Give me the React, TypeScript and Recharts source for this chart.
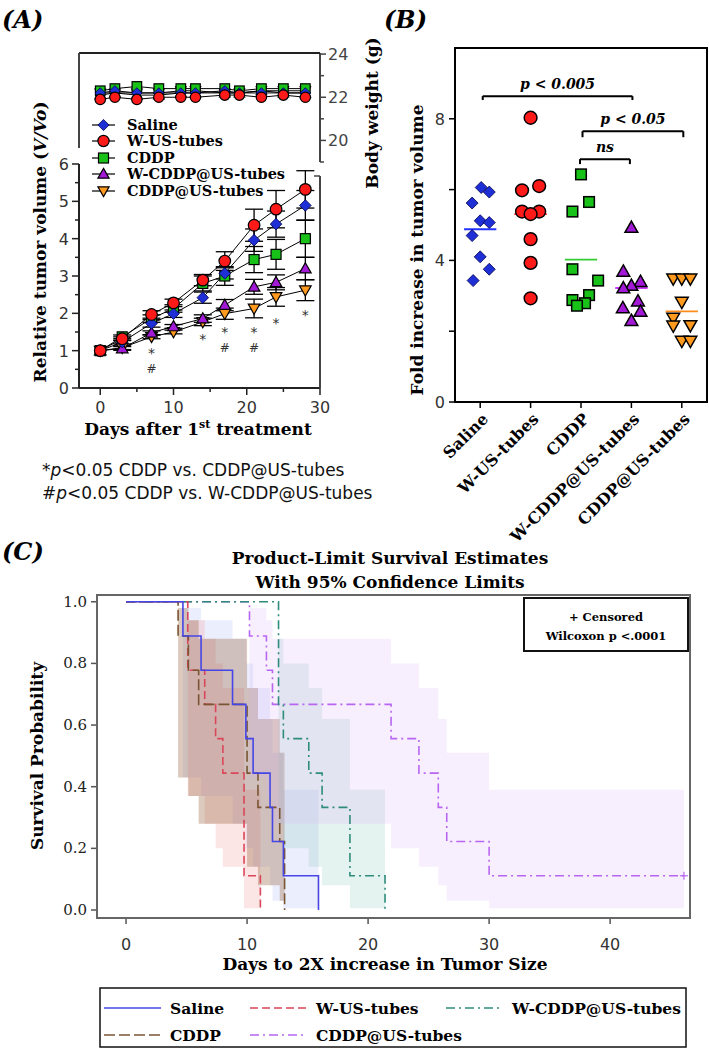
import React from 'react';
import { ComposedChart, Line, Area, Scatter, XAxis, YAxis, ErrorBar, ReferenceLine } from 'recharts';

const SERIF = '"DejaVu Serif", serif';
const SANS = '"DejaVu Sans", sans-serif';

// ---------- (A) relative tumour volume ----------
const DAYS = [0, 3, 7, 10, 14, 17, 21, 24, 28];
const VOL_SALINE = [1, 1.23, 1.73, 1.99, 2.42, 3.07, 3.96, 4.39, 4.89];
const VOL_WUS = [1, 1.32, 1.97, 2.28, 2.89, 3.4, 4.36, 4.79, 5.32];
const VOL_CDDP = [1, 1.37, 1.86, 2.13, 2.8, 3.0, 3.44, 3.58, 4.0];
const VOL_WCDDP = [1, 1.06, 1.48, 1.65, 1.86, 2.22, 2.71, 2.83, 3.2];
const VOL_CDDPUS = [1, 1.08, 1.37, 1.5, 1.77, 1.99, 2.13, 2.44, 2.62];
const ERR_SALINE = [0, 0.05, 0.1, 0.1, 0.15, 0.15, 0.3, 0.35, 0.4];
const ERR_WUS = [0, 0.05, 0.1, 0.1, 0.15, 0.25, 0.43, 0.5, 0.5];
const ERR_CDDP = [0, 0.05, 0.1, 0.1, 0.2, 0.25, 0.35, 0.4, 0.5];
const ERR_WCDDP = [0, 0.05, 0.05, 0.05, 0.1, 0.15, 0.2, 0.2, 0.3];
const ERR_CDDPUS = [0, 0.05, 0.05, 0.05, 0.1, 0.15, 0.25, 0.25, 0.28];

// significance marks under the curves (* = vs CDDP@US-tubes, # = vs W-CDDP@US-tubes)
const MARK_DAYS = [7, 14, 17, 21, 24, 28];
const MARK_Y = [0.98, 1.37, 1.55, 1.55, 1.8, 2.0];
const MARK_TXT = ['*#', '*', '*#', '*#', '*', '*'];

// ---------- (A) body weight ----------
const BW_DAYS = [0, 2, 5, 8, 11, 13, 17, 19, 22, 25, 28];
const BW_SALINE = [22.2, 22.3, 22.2, 22.2, 22.2, 22.2, 22.3, 22.2, 22.2, 22.2, 22.2];
const BW_WUS = [21.9, 22.0, 21.9, 22.0, 22.0, 22.0, 22.1, 22.1, 22.0, 22.1, 22.0];
const BW_CDDP = [22.3, 22.4, 22.5, 22.4, 22.4, 22.4, 22.4, 22.3, 22.4, 22.4, 22.4];
const BW_WCDDP = [22.1, 22.2, 22.1, 22.1, 22.2, 22.2, 22.2, 22.2, 22.3, 22.2, 22.2];
const BW_CDDPUS = [22.2, 22.2, 22.2, 22.2, 22.3, 22.3, 22.2, 22.2, 22.3, 22.3, 22.3];

// ---------- (B) fold increase ----------
const CATS = ['Saline', 'W-US-tubes', 'CDDP', 'W-CDDP@US-tubes', 'CDDP@US-tubes'];
const FOLD_SALINE = [6.06, 5.93, 5.62, 5.12, 5.07, 4.7, 4.1, 3.75, 3.43];
const FOLD_WUS = [8.03, 6.1, 5.98, 5.38, 5.38, 5.31, 4.6, 3.93, 2.93];
const FOLD_CDDP = [6.43, 5.65, 5.38, 3.75, 3.43, 3.02, 2.88, 2.79, 2.72];
const FOLD_WCDDP = [4.93, 3.69, 3.4, 3.29, 3.22, 2.85, 2.66, 2.56, 2.3];
const FOLD_CDDPUS = [3.48, 3.48, 3.48, 2.82, 2.37, 2.15, 2.16, 1.72, 1.72];
const JIT_SALINE = [0.02, 0.18, -0.16, 0, 0.18, -0.16, 0, 0.18, -0.14];
const JIT_WUS = [0, 0.17, -0.17, -0.17, 0.17, 0, 0, 0, 0];
const JIT_CDDP = [0, 0.16, -0.17, -0.17, 0.34, 0.16, -0.17, 0.08, -0.08];
const JIT_WCDDP = [0, -0.16, 0.18, 0, -0.16, 0.13, -0.17, 0.18, 0];
const JIT_CDDPUS = [-0.17, 0, 0.17, 0, -0.17, -0.17, 0.17, 0, 0.17];
const FOLD_MEANS = [4.88, 5.31, 4.02, 3.22, 2.56];
const BRACKETS = [
  { from: 0.05, to: 3.02, y: 8.64, leg: 8.53, label: 'p < 0.005' },
  { from: 2.03, to: 4.03, y: 7.65, leg: 7.48, label: 'p < 0.05' },
  { from: 1.98, to: 2.97, y: 6.86, leg: 6.72, label: 'ns' },
];

// ---------- (C) Kaplan-Meier ----------
const KM_SALINE_T = [0, 4.7, 6.2, 8.8, 9.9, 10.5, 11.9, 12.1, 13.0, 15.9];
const KM_SALINE_S = [1, 0.889, 0.778, 0.667, 0.556, 0.444, 0.333, 0.222, 0.111, 0];
const KM_SALINE_LO = [1, 0.43, 0.37, 0.28, 0.2, 0.14, 0.08, 0.03, 0.006, 0];
const KM_SALINE_HI = [1, 0.98, 0.94, 0.88, 0.8, 0.72, 0.62, 0.51, 0.39, 0];
const KM_WUS_T = [0, 5.1, 6.5, 7.4, 8.0, 9.75, 11.1];
const KM_WUS_S = [1, 0.778, 0.667, 0.556, 0.444, 0.111, 0];
const KM_WUS_LO = [1, 0.37, 0.28, 0.2, 0.14, 0.006, 0];
const KM_WUS_HI = [1, 0.94, 0.88, 0.8, 0.72, 0.39, 0];
const KM_CDDP_T = [0, 4.3, 5.15, 6.0, 10.0, 10.9, 12.7, 13.1];
const KM_CDDP_S = [1, 0.889, 0.778, 0.667, 0.444, 0.333, 0.222, 0];
const KM_CDDP_LO = [1, 0.43, 0.37, 0.28, 0.14, 0.08, 0.03, 0];
const KM_CDDP_HI = [1, 0.98, 0.94, 0.88, 0.72, 0.62, 0.51, 0];
const KM_WCDDP_T = [0, 12.6, 13.0, 15.1, 16.2, 18.5, 21.4];
const KM_WCDDP_S = [1, 0.667, 0.556, 0.444, 0.333, 0.111, 0];
const KM_WCDDP_LO = [1, 0.28, 0.2, 0.14, 0.08, 0.006, 0];
const KM_WCDDP_HI = [1, 0.88, 0.8, 0.72, 0.62, 0.39, 0];
const KM_CDDPUS_T = [0, 10.2, 11.6, 12.1, 21.9, 24.2, 25.8, 26.5, 30.0, 46.1];
const KM_CDDPUS_S = [1, 0.889, 0.778, 0.667, 0.556, 0.444, 0.333, 0.222, 0.111, 0.111];
const KM_CDDPUS_LO = [1, 0.43, 0.37, 0.28, 0.2, 0.14, 0.08, 0.03, 0.006, 0.006];
const KM_CDDPUS_HI = [1, 0.98, 0.94, 0.88, 0.8, 0.72, 0.62, 0.51, 0.39, 0.39];
const CENSOR_T = [46.1];
const CENSOR_S = [0.111];

// styles
const MK = [
  { kind: 'diamond', fill: '#1f2fd6' },
  { kind: 'circle', fill: '#ff1a1a' },
  { kind: 'square', fill: '#19c219' },
  { kind: 'up', fill: '#a31ad6' },
  { kind: 'down', fill: '#ff9a1f' },
];
const MEAN_COLORS = ['#2233ff', '#ff2020', '#33cc33', '#cc33ff', '#ff8c1a'];
const KM_STYLE = [
  { color: '#4646e6', dash: undefined, band: '#6e86f2', op: 0.14 },
  { color: '#d9475a', dash: '8 4', band: '#f5a0a0', op: 0.28 },
  { color: '#7a5533', dash: '11 4', band: '#9c6846', op: 0.35 },
  { color: '#2f8c7c', dash: '9 4 2 4', band: '#7cc4b4', op: 0.2 },
  { color: '#b866f2', dash: '9 4 2 4', band: '#d5b0f7', op: 0.2 },
];

function marker(kind: string, cx: number, cy: number, r: number, fill: string, sw = 1.2) {
  if (cx == null || cy == null || isNaN(cx) || isNaN(cy)) return null;
  const st = { fill, stroke: '#000', strokeWidth: sw };
  if (kind === 'diamond')
    return <polygon points={`${cx},${cy - r} ${cx + r},${cy} ${cx},${cy + r} ${cx - r},${cy}`} fill={fill} stroke="#00004a" strokeWidth={0.8} />;
  if (kind === 'circle') return <circle cx={cx} cy={cy} r={r} {...st} />;
  if (kind === 'square') return <rect x={cx - r} y={cy - r} width={2 * r} height={2 * r} {...st} />;
  if (kind === 'up') return <polygon points={`${cx},${cy - r} ${cx + r},${cy + r * 0.75} ${cx - r},${cy + r * 0.75}`} {...st} />;
  return <polygon points={`${cx},${cy + r} ${cx + r},${cy - r * 0.75} ${cx - r},${cy - r * 0.75}`} {...st} />;
}

const dotFor = (kind: string, fill: string, r: number, sw = 1.2) => (p: any) => (
  <g key={`dot-${p.index}`}>{marker(kind, p.cx, p.cy, r, fill, sw)}</g>
);

const tumorRows = DAYS.map((d, i) => ({
  day: d,
  v0: VOL_SALINE[i], e0: ERR_SALINE[i],
  v1: VOL_WUS[i], e1: ERR_WUS[i],
  v2: VOL_CDDP[i], e2: ERR_CDDP[i],
  v3: VOL_WCDDP[i], e3: ERR_WCDDP[i],
  v4: VOL_CDDPUS[i], e4: ERR_CDDPUS[i],
}));
const markRows = MARK_DAYS.map((d, i) => ({ day: d, y: MARK_Y[i], t: MARK_TXT[i] }));
const bwRows = BW_DAYS.map((d, i) => ({
  day: d, w0: BW_SALINE[i], w1: BW_WUS[i], w2: BW_CDDP[i], w3: BW_WCDDP[i], w4: BW_CDDPUS[i],
}));
const FOLDS = [FOLD_SALINE, FOLD_WUS, FOLD_CDDP, FOLD_WCDDP, FOLD_CDDPUS];
const JITS = [JIT_SALINE, JIT_WUS, JIT_CDDP, JIT_WCDDP, JIT_CDDPUS];
const foldSets = FOLDS.map((vals, g) => vals.map((v, i) => ({ x: g + JITS[g][i], y: v })));
const km = (t: number[], s: number[], lo: number[], hi: number[]) =>
  t.map((tt, i) => ({ t: tt, s: s[i], band: [lo[i], hi[i]] }));
const KM_SETS = [
  km(KM_SALINE_T, KM_SALINE_S, KM_SALINE_LO, KM_SALINE_HI),
  km(KM_WUS_T, KM_WUS_S, KM_WUS_LO, KM_WUS_HI),
  km(KM_CDDP_T, KM_CDDP_S, KM_CDDP_LO, KM_CDDP_HI),
  km(KM_WCDDP_T, KM_WCDDP_S, KM_WCDDP_LO, KM_WCDDP_HI),
  km(KM_CDDPUS_T, KM_CDDPUS_S, KM_CDDPUS_LO, KM_CDDPUS_HI),
];
const censorRows = CENSOR_T.map((t, i) => ({ t, s: CENSOR_S[i] }));

// ---------- ticks ----------
const VolYTick = ({ x, y, payload }: any) => {
  const v = payload.value;
  const major = v % 1 === 0;
  return (
    <g>
      <line x1={x} x2={x - (major ? 7 : 4)} y1={y} y2={y} stroke="#222" strokeWidth={1.5} />
      {major && <text x={x - 10} y={y + 6} textAnchor="end" fontFamily={SANS} fontSize={16} fill="#333">{v}</text>}
    </g>
  );
};
const DayXTick = ({ x, y, payload }: any) => {
  const v = payload.value;
  const major = v % 10 === 0;
  return (
    <g>
      <line x1={x} x2={x} y1={y} y2={y + (major ? 7 : 4)} stroke="#222" strokeWidth={1.5} />
      {major && <text x={x} y={y + 25} textAnchor="middle" fontFamily={SANS} fontSize={16} fill="#333">{v}</text>}
    </g>
  );
};
const BwTick = ({ x, y, payload }: any) => {
  const v = payload.value;
  const major = v % 2 === 0;
  return (
    <g>
      <line x1={x} x2={x + (major ? 6 : 4)} y1={y} y2={y} stroke="#444" strokeWidth={1.5} />
      {major && <text x={x + 8} y={y + 6} textAnchor="start" fontFamily={SANS} fontSize={16} fill="#444">{v}</text>}
    </g>
  );
};
const ZeroRightTick = ({ x, y, payload }: any) => (
  <g>
    <line x1={x} x2={x + 6} y1={y} y2={y} stroke="#444" strokeWidth={1.5} />
    <text x={x + 8} y={y + 6} fontFamily={SANS} fontSize={16} fill="#444">{payload.value}</text>
  </g>
);
const FoldYTick = ({ x, y, payload }: any) => {
  const v = payload.value;
  const major = v % 4 === 0;
  return (
    <g>
      <line x1={x} x2={x - 6} y1={y} y2={y} stroke="#000" strokeWidth={1.5} />
      {major && <text x={x - 10} y={y + 6} textAnchor="end" fontFamily={SANS} fontSize={16} fill="#333">{v}</text>}
    </g>
  );
};
const CatTick = ({ x, y, payload }: any) => {
  const ax = x + 9;
  const ay = y + 18;
  return (
    <g>
      <line x1={x} x2={x} y1={y} y2={y + 6} stroke="#000" strokeWidth={1.5} />
      <text x={ax} y={ay} textAnchor="end" transform={`rotate(-45 ${ax} ${ay})`} fontFamily={SERIF} fontWeight="bold" fontSize={16} fill="#000">
        {CATS[payload.value]}
      </text>
    </g>
  );
};
const KmYTick = ({ x, y, payload }: any) => (
  <g>
    <line x1={x} x2={x - 6} y1={y} y2={y} stroke="#555" strokeWidth={1.5} />
    <text x={x - 10} y={y + 5} textAnchor="end" fontFamily={SERIF} fontSize={15} fill="#222">{payload.value.toFixed(1)}</text>
  </g>
);
const KmXTick = ({ x, y, payload }: any) => (
  <g>
    <line x1={x} x2={x} y1={y} y2={y + 6} stroke="#555" strokeWidth={1.5} />
    <text x={x} y={y + 32} textAnchor="middle" fontFamily={SANS} fontSize={16} fill="#333">{payload.value}</text>
  </g>
);

const markShape = (p: any) => {
  const chars: string[] = p.payload.t.split('');
  return (
    <g>
      {chars.map((c, i) => (
        <text key={i} x={p.cx} y={p.cy + (i === 0 ? 7 : 21.5)} textAnchor="middle" fontFamily={SANS}
          fontSize={c === '*' ? 14 : 12} fill="#333">{c}</text>
      ))}
    </g>
  );
};
const plusShape = (p: any) => (
  <g>
    <line x1={p.cx - 4} x2={p.cx + 4} y1={p.cy} y2={p.cy} stroke="#b866f2" strokeWidth={1.2} />
    <line x1={p.cx} x2={p.cx} y1={p.cy - 4} y2={p.cy + 4} stroke="#b866f2" strokeWidth={1.2} />
  </g>
);

const DRAW_ORDER = [4, 3, 2, 0, 1];

function BodyWeightChart() {
  return (
    <ComposedChart width={380} height={140} data={bwRows} margin={{ top: 23, right: 10, bottom: 8, left: 79 }}>
      <XAxis dataKey="day" type="number" domain={[-2.9, 30]} hide />
      <YAxis yAxisId="w" orientation="right" width={50} domain={[19, 24.05]} ticks={[19, 20, 21, 22, 23, 24]}
        interval={0} tickSize={0} tickMargin={0} tick={<BwTick />} axisLine={{ stroke: '#444', strokeWidth: 2 }} />
      {DRAW_ORDER.map((g) => (
        <Line key={g} yAxisId="w" dataKey={`w${g}`} stroke="#000" strokeWidth={1} isAnimationActive={false}
          activeDot={false} dot={dotFor(MK[g].kind, MK[g].fill, g === 2 ? 4.8 : 5.2)} />
      ))}
    </ComposedChart>
  );
}

function TumorChart() {
  return (
    <ComposedChart width={380} height={300} data={tumorRows} margin={{ top: 24, right: 10, bottom: 22, left: 0 }}>
      <XAxis dataKey="day" type="number" domain={[-2.9, 30]} ticks={[0, 5, 10, 15, 20, 25, 30]} interval={0}
        height={30} tickSize={0} tickMargin={0} tick={<DayXTick />} axisLine={{ stroke: '#222', strokeWidth: 2 }} allowDataOverflow />
      <YAxis yAxisId="L" width={79} domain={[0, 6]} ticks={[0, 0.5, 1, 1.5, 2, 2.5, 3, 3.5, 4, 4.5, 5, 5.5, 6]} interval={0}
        tickSize={0} tickMargin={0} tick={<VolYTick />} axisLine={{ stroke: '#222', strokeWidth: 2 }} />
      <YAxis yAxisId="R" orientation="right" width={50} domain={[0, 6]} ticks={[0]} interval={0}
        tickSize={0} tickMargin={0} tick={<ZeroRightTick />} axisLine={false} />
      {DRAW_ORDER.map((g) => (
        <Line key={g} yAxisId="L" dataKey={`v${g}`} stroke="#000" strokeWidth={1} isAnimationActive={false}
          activeDot={false} dot={dotFor(MK[g].kind, MK[g].fill, g === 2 ? 5 : 5.8)}>
          <ErrorBar dataKey={`e${g}`} width={9} stroke="#000" strokeWidth={1.3} direction="y" />
        </Line>
      ))}
      <Scatter yAxisId="L" data={markRows} dataKey="y" shape={markShape} isAnimationActive={false} />
    </ComposedChart>
  );
}

function FoldChart() {
  return (
    <ComposedChart width={349} height={560} margin={{ top: 48, right: 2, bottom: 0, left: 55 }}>
      <XAxis dataKey="x" type="number" domain={[-0.5, 4.5]} ticks={[0, 1, 2, 3, 4]} interval={0} height={158}
        tickSize={0} tickMargin={0} tick={<CatTick />} axisLine={false} />
      <YAxis dataKey="y" type="number" width={40} domain={[0, 10]} ticks={[0, 2, 4, 6, 8]} interval={0}
        tickSize={0} tickMargin={0} tick={<FoldYTick />} axisLine={false} />
      {BRACKETS.map((b, i) => (
        <ReferenceLine key={`bh${i}`} segment={[{ x: b.from, y: b.y }, { x: b.to, y: b.y }]} stroke="#000" strokeWidth={2}
          label={{ value: b.label, position: 'top', offset: 7, fill: '#000', fontSize: 14, fontWeight: 'bold', fontStyle: 'italic', fontFamily: SERIF }} />
      ))}
      {BRACKETS.map((b, i) => (
        <ReferenceLine key={`bl${i}`} segment={[{ x: b.from, y: b.y }, { x: b.from, y: b.leg }]} stroke="#000" strokeWidth={2} />
      ))}
      {BRACKETS.map((b, i) => (
        <ReferenceLine key={`br${i}`} segment={[{ x: b.to, y: b.y }, { x: b.to, y: b.leg }]} stroke="#000" strokeWidth={2} />
      ))}
      {foldSets.map((d, g) => (
        <Scatter key={g} data={d} dataKey="y" isAnimationActive={false}
          shape={(p: any) => marker(MK[g].kind, p.cx, p.cy, g === 2 ? 5.3 : g === 0 ? 6 : 6.4, MK[g].fill, 1.5) as any} />
      ))}
      {FOLD_MEANS.map((m, g) => (
        <ReferenceLine key={`m${g}`} segment={[{ x: g - 0.32, y: m }, { x: g + 0.32, y: m }]} stroke={MEAN_COLORS[g]} strokeWidth={1.8} />
      ))}
    </ComposedChart>
  );
}

function SurvivalChart() {
  return (
    <ComposedChart width={709} height={400} margin={{ top: 5, right: 19, bottom: 32, left: 37 }}>
      <XAxis dataKey="t" type="number" domain={[-2.4, 46.6]} ticks={[0, 10, 20, 30, 40]} interval={0} height={40}
        tickSize={0} tickMargin={0} tick={<KmXTick />} axisLine={false} allowDataOverflow />
      <YAxis type="number" width={60} domain={[-0.026, 1.022]} ticks={[0, 0.2, 0.4, 0.6, 0.8, 1]} interval={0}
        tickSize={0} tickMargin={0} tick={<KmYTick />} axisLine={false} allowDataOverflow />
      {KM_SETS.map((d, g) => (
        <Area key={`b${g}`} data={d} dataKey="band" type="stepAfter" stroke="none" fill={KM_STYLE[g].band}
          fillOpacity={KM_STYLE[g].op} isAnimationActive={false} dot={false} activeDot={false} />
      ))}
      {[4, 3, 1, 2, 0].map((g) => (
        <Line key={`l${g}`} data={KM_SETS[g]} dataKey="s" type="stepAfter" stroke={KM_STYLE[g].color} strokeWidth={1.6}
          strokeDasharray={KM_STYLE[g].dash} dot={false} activeDot={false} isAnimationActive={false} />
      ))}
      <Scatter data={censorRows} dataKey="s" shape={plusShape} isAnimationActive={false} />
    </ComposedChart>
  );
}

const boldSerif = { fontFamily: SERIF, fontWeight: 'bold' as const, fill: '#000' };

export default function App() {
  const legendA = ['Saline', 'W-US-tubes', 'CDDP', 'W-CDDP@US-tubes', 'CDDP@US-tubes'];
  const legendAY = [125, 141, 158, 174, 191];
  const legendC = [
    { g: 0, x: 104, y: 1008, label: 'Saline' },
    { g: 1, x: 250, y: 1008, label: 'W-US-tubes' },
    { g: 3, x: 446, y: 1008, label: 'W-CDDP@US-tubes' },
    { g: 2, x: 104, y: 1035, label: 'CDDP' },
    { g: 4, x: 250, y: 1035, label: 'CDDP@US-tubes' },
  ];
  return (
    <div style={{ position: 'absolute', left: 0, top: 0, width: 709, height: 1050, background: '#fff', overflow: 'hidden' }}>
      <div style={{ position: 'absolute', left: 0, top: 30 }}><BodyWeightChart /></div>
      <div style={{ position: 'absolute', left: 0, top: 140 }}><TumorChart /></div>
      <div style={{ position: 'absolute', left: 360, top: 0 }}><FoldChart /></div>
      <div style={{ position: 'absolute', left: 0, top: 590 }}><SurvivalChart /></div>
      <svg width={709} height={1050} style={{ position: 'absolute', left: 0, top: 0, pointerEvents: 'none' }}>
        {/* panel letters */}
        <text x={2} y={28} fontSize={24} fontStyle="italic" {...boldSerif}>(A)</text>
        <text x={384} y={28} fontSize={24} fontStyle="italic" {...boldSerif}>(B)</text>
        <text x={2} y={560} fontSize={24} fontStyle="italic" {...boldSerif}>(C)</text>

        {/* panel A frame pieces */}
        <line x1={79} x2={320} y1={53} y2={53} stroke="#222" strokeWidth={2} />
        <line x1={79} x2={79} y1={53} y2={148} stroke="#444" strokeWidth={2} />
        <line x1={320} x2={320} y1={176} y2={388} stroke="#444" strokeWidth={2} />
        <line x1={314} x2={320} y1={176} y2={176} stroke="#444" strokeWidth={1.5} />
        <text transform="translate(46 242) rotate(-90)" textAnchor="middle" fontSize={17} {...boldSerif}>
          Relative tumor volume (<tspan fontStyle="italic">V/Vo</tspan>)
        </text>
        <text transform="translate(378 113) rotate(-90)" textAnchor="middle" fontSize={17} {...boldSerif}>Body weight (g)</text>
        <text x={198} y={435} textAnchor="middle" fontSize={17} {...boldSerif}>
          Days after 1<tspan dy={-7} fontSize={11}>st</tspan><tspan dy={7}> treatment</tspan>
        </text>
        {legendA.map((l, i) => (
          <g key={l}>
            <line x1={92} x2={115} y1={legendAY[i]} y2={legendAY[i]} stroke="#000" strokeWidth={1.2} />
            {marker(MK[i].kind, 103.5, legendAY[i], i === 2 ? 5 : 5.6, MK[i].fill)}
            <text x={127} y={legendAY[i] + 5} fontSize={14.5} {...boldSerif}>{l}</text>
          </g>
        ))}
        <text x={42} y={476} fontFamily={SANS} fontSize={17} fill="#111">
          *<tspan fontStyle="italic">p</tspan>&lt;0.05 CDDP vs. CDDP@US-tubes
        </text>
        <text x={42} y={499} fontFamily={SANS} fontSize={17} fill="#111">
          #<tspan fontStyle="italic">p</tspan>&lt;0.05 CDDP vs. W-CDDP@US-tubes
        </text>

        {/* panel B frame */}
        <rect x={455} y={48} width={252} height={354} fill="none" stroke="#000" strokeWidth={2} />
        <text transform="translate(423 250) rotate(-90)" textAnchor="middle" fontSize={17} {...boldSerif}>Fold increase in tumor volume</text>

        {/* panel C */}
        <text x={390} y={564} textAnchor="middle" fontSize={17} {...boldSerif}>Product-Limit Survival Estimates</text>
        <text x={390} y={588} textAnchor="middle" fontSize={17} {...boldSerif}>With 95% Confidence Limits</text>
        <rect x={97} y={595} width={593} height={323} fill="none" stroke="#666" strokeWidth={2} />
        <rect x={524} y={598} width={164} height={53} fill="#fff" stroke="#111" strokeWidth={2} />
        <text x={606} y={621} textAnchor="middle" fontSize={11.5} {...boldSerif}>+ Censored</text>
        <text x={606} y={640} textAnchor="middle" fontSize={11.5} {...boldSerif}>Wilcoxon p &lt;.0001</text>
        <text transform="translate(43 756) rotate(-90)" textAnchor="middle" fontSize={17} {...boldSerif}>Survival Probability</text>
        <text x={385} y={970} textAnchor="middle" fontSize={17} {...boldSerif}>Days to 2X increase in Tumor Size</text>
        <rect x={100} y={988} width={586} height={59} fill="#fff" stroke="#111" strokeWidth={1.5} />
        {legendC.map((e) => (
          <g key={e.label}>
            <line x1={e.x} x2={e.x + 57} y1={e.y} y2={e.y} stroke={KM_STYLE[e.g].color} strokeWidth={1.6}
              strokeDasharray={KM_STYLE[e.g].dash} />
            <text x={e.x + 66} y={e.y + 6} fontSize={15.5} {...boldSerif}>{e.label}</text>
          </g>
        ))}
      </svg>
    </div>
  );
}
